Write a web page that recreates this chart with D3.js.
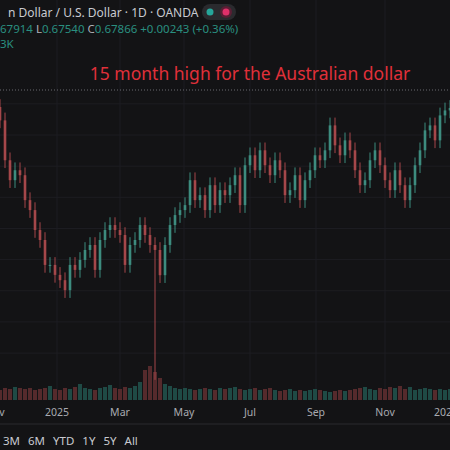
<!DOCTYPE html><html><head><meta charset="utf-8">
<script src="https://cdn.jsdelivr.net/npm/d3@7/dist/d3.min.js"></script>
<style>body{margin:0;background:#131315}svg{display:block}</style></head><body>
<svg id="c" width="450" height="450"></svg>
<script>
const closes=[.6747,.6619,.6555,.6587,.6571,.6491,.6459,.6395,.6363,.6283,.6283,.6251,.6234,.6202,.6283,.6267,.6299,.6331,.6347,.6267,.6363,.6395,.6411,.6395,.6379,.6283,.6347,.6363,.6411,.6379,.6347,.6331,.6250,.6347,.6411,.6443,.6459,.6475,.6555,.6491,.6507,.6459,.6539,.6475,.6523,.6507,.6539,.6571,.6475,.6603,.6635,.6587,.6651,.6603,.6571,.6619,.6587,.6507,.6523,.6571,.6491,.6555,.6587,.6635,.6619,.6651,.6731,.6667,.6635,.6683,.6651,.6587,.6539,.6555,.6619,.6651,.6603,.6555,.6523,.6587,.6539,.6491,.6539,.6603,.6651,.6715,.6731,.6683,.6763,.6779,.6787];
const firstOpen=.6790;
const spikeIndex=31, spikeLow=.5914;
const volumes=[10,12,11,13,12,11,12,10,11,12,14,11,10,12,11,13,16,12,11,10,12,13,15,12,11,13,12,14,18,30,34,28,22,16,14,12,11,12,11,10,11,12,11,10,12,11,12,13,11,10,11,12,10,11,12,10,9,10,11,9,10,9,10,11,10,9,8,9,10,9,10,11,12,13,11,10,12,11,13,12,14,11,13,10,11,12,11,10,11,10,11];
const xLabels=[["v",2],["2025",57],["Mar",120],["May",184],["Jul",250],["Sep",316],["Nov",385],["202",443]];
const ranges=["3M","6M","YTD","1Y","5Y","All"];

const svg=d3.select("#c");
svg.append("rect").attr("width",450).attr("height",450).attr("fill","#131315");
const x=d3.scaleLinear().domain([0,closes.length-1]).range([0,450]);
const y=d3.scaleLinear().domain([0.618,0.679]).range([297,107]);
const vy=d3.scaleLinear().domain([0,40]).range([400,360]);
xLabels.slice(1,7).forEach(d=>svg.append("line").attr("x1",d[1]).attr("x2",d[1]).attr("y1",0).attr("y2",400).attr("stroke","#1d1d22"));
[0.60,0.61,0.62,0.63,0.64,0.65,0.66,0.67,0.68].forEach(v=>svg.append("line").attr("x1",0).attr("x2",450).attr("y1",y(v)).attr("y2",y(v)).attr("stroke","#1d1d22"));
volumes.forEach((v,i)=>{const o=i?closes[i-1]:firstOpen,up=closes[i]>=o;
 svg.append("rect").attr("x",x(i)-2).attr("width",4).attr("y",vy(v)).attr("height",400-vy(v)).attr("fill",up?"#1f4a45":"#552a2c");});
svg.append("line").attr("x1",0).attr("x2",450).attr("y1",90).attr("y2",90).attr("stroke","#6a6a70").attr("stroke-dasharray","1,2");
closes.forEach((c,i)=>{const o=i?closes[i-1]:firstOpen,up=c>=o,col=up?"#3d8c7f":"#a5474a";
 const hi=Math.max(o,c)+0.0025,lo=i===spikeIndex?spikeLow:Math.min(o,c)-0.0025;
 svg.append("line").attr("x1",x(i)).attr("x2",x(i)).attr("y1",y(hi)).attr("y2",y(lo)).attr("stroke",col).attr("stroke-width",1);
 svg.append("rect").attr("x",x(i)-1.3).attr("width",2.6).attr("y",y(Math.max(o,c))).attr("height",Math.max(1,Math.abs(y(o)-y(c)))).attr("fill",col);});
const T=(t,xx,yy,s,c,a)=>svg.append("text").attr("x",xx).attr("y",yy).attr("font-family","Noto Sans, sans-serif").attr("font-size",s).attr("fill",c).attr("text-anchor",a||"start").text(t);
T("15 month high for the Australian dollar",250,80,17.5,"#e0303a","middle");
T("n Dollar / U.S. Dollar · 1D · OANDA",8,17,12,"#c8cad0");
svg.append("rect").attr("x",202).attr("y",4).attr("width",34).attr("height",16).attr("rx",8).attr("fill","#2a2a2e");
svg.append("circle").attr("cx",210).attr("cy",12).attr("r",3.5).attr("fill","#26a69a");
svg.append("rect").attr("x",220).attr("y",6).attr("width",12).attr("height",12).attr("rx",6).attr("fill","#5a1e34");
svg.append("circle").attr("cx",226).attr("cy",12).attr("r",3.5).attr("fill","#e0306a");
const t2=svg.append("text").attr("x",0).attr("y",33).attr("font-family","Noto Sans, sans-serif").attr("font-size",11.5).attr("fill","#2a8f80");
t2.append("tspan").text("67914 ");t2.append("tspan").attr("fill","#b0b2b8").text("L");t2.append("tspan").text("0.67540 ");
t2.append("tspan").attr("fill","#b0b2b8").text("C");t2.append("tspan").text("0.67866 +0.00243 (+0.36%)");
T("3K",0,48,11.5,"#2a8f80");
xLabels.forEach(d=>T(d[0],d[1],416,10.5,"#a8aab0","middle"));
svg.append("line").attr("x1",0).attr("x2",450).attr("y1",424).attr("y2",424).attr("stroke","#2a2a2e");
let px=3;ranges.forEach(r=>{const t=T(r,px,445,11.5,"#c8cad0");px+=t.node().getComputedTextLength()+8;});
</script></body></html>
